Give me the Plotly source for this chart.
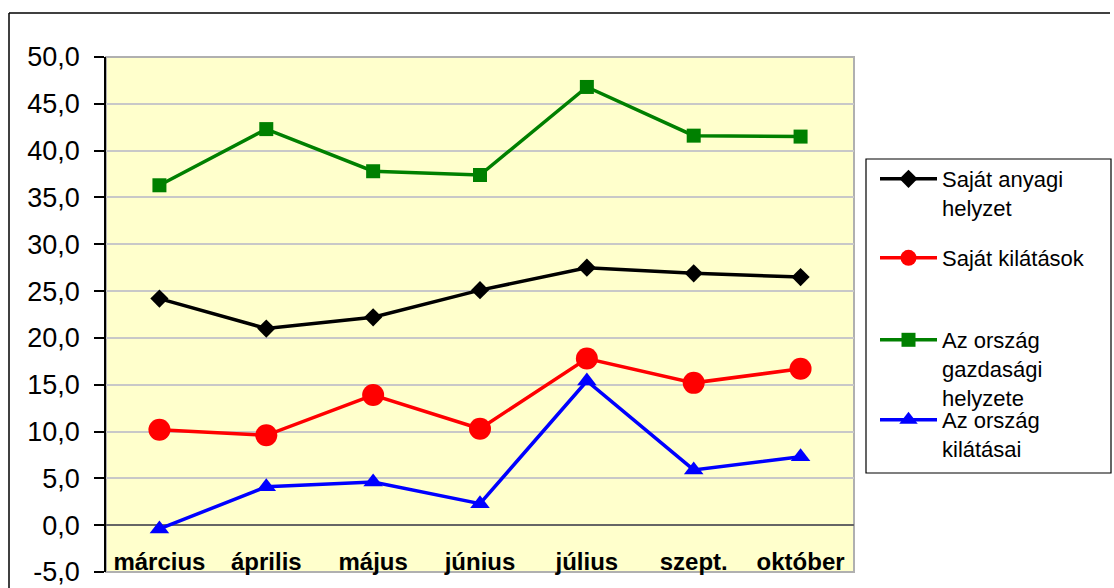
import plotly.graph_objects as go

months = ["március", "április", "május", "június", "július", "szept.", "október"]
sajat_anyagi = [24.2, 21.0, 22.2, 25.1, 27.5, 26.9, 26.5]
sajat_kilatasok = [10.2, 9.6, 13.9, 10.3, 17.8, 15.2, 16.7]
orszag_gazdasagi = [36.3, 42.3, 37.8, 37.4, 46.8, 41.6, 41.5]
orszag_kilatasai = [-0.4, 4.1, 4.6, 2.3, 15.4, 5.9, 7.3]

names = ["Saját anyagi<br>helyzet", "Saját kilátások", "Az ország<br>gazdasági<br>helyzete", "Az ország<br>kilátásai"]
colors = ["#000000", "#FF0000", "#008000", "#0000FF"]
symbols = ["diamond", "circle", "square", "triangle-up"]
msizes = [14, 22, 14, 17]
series = [sajat_anyagi, sajat_kilatasok, orszag_gazdasagi, orszag_kilatasai]
legend_ids = ["legend", "legend2", "legend3", "legend4"]

ytick_vals = [-5, 0, 5, 10, 15, 20, 25, 30, 35, 40, 45, 50]
ytick_text = [f"{v:.1f}".replace(".", ",") for v in ytick_vals]

FONT = "Liberation Sans, Arial, sans-serif"
W, H = 1114, 588
L, R, T, B = 106, 854, 57, 572


def px(x):
    return (x - L) / (R - L)


def py(y):
    return (B - y) / (B - T)


fig = go.Figure()
for vals, name, c, s, ms, lg in zip(series, names, colors, symbols, msizes, legend_ids):
    fig.add_trace(go.Scatter(
        x=months, y=vals, name=name, mode="lines+markers",
        line=dict(color=c, width=3.5),
        marker=dict(symbol=s, size=ms, color=c, line=dict(width=0)),
        legend=lg,
    ))

leg_tops = [158, 237, 319, 399]
common_leg = dict(
    x=px(875), xanchor="left", yanchor="top",
    bgcolor="rgba(0,0,0,0)", borderwidth=0, valign="top",
    font=dict(family=FONT, size=22, color="#000000"),
    itemwidth=57, tracegroupgap=0,
)

layout_legends = {}
for lg, top in zip(legend_ids, leg_tops):
    d = dict(common_leg)
    d["y"] = py(top)
    layout_legends[lg] = d

fig.update_layout(
    width=W, height=H,
    margin=dict(l=L, r=W - R, t=T, b=H - B, autoexpand=False),
    paper_bgcolor="#FFFFFF",
    plot_bgcolor="#FFFFCC",
    font=dict(family=FONT, color="#000000"),
    showlegend=True,
    **layout_legends,
    xaxis=dict(
        type="category", range=[-0.5, 6.5], automargin=False,
        anchor="free", position=py(545),
        showgrid=False, zeroline=False, showline=False,
        ticks="", ticklabelstandoff=0,
        tickfont=dict(family=FONT, size=24, color="#000000", weight="bold"),
    ),
    xaxis2=dict(
        overlaying="x", anchor="free", position=5 / 55, side="bottom",
        range=[-0.5, 6.5], showgrid=False, zeroline=False, showline=False,
        automargin=False,
        tickmode="array", tickvals=[i - 0.5 for i in range(len(months) + 1)],
        ticks="outside", ticklen=8, tickcolor="#606060", tickwidth=1.5,
        showticklabels=False,
    ),
    yaxis=dict(
        range=[-5, 50], tickmode="array", tickvals=ytick_vals, ticktext=ytick_text,
        automargin=False,
        showgrid=True, gridcolor="#C8C8C8", gridwidth=1.5,
        zeroline=True, zerolinecolor="#666666", zerolinewidth=2,
        showline=True, linecolor="#000000", linewidth=1.5,
        ticks="outside", ticklen=10, tickcolor="#000000", tickwidth=1.5,
        ticklabelstandoff=9,
        tickfont=dict(family=FONT, size=27, color="#000000"),
    ),
    shapes=[
        # plot area border (gray)
        dict(type="rect", xref="paper", yref="paper", x0=0, x1=1, y0=0, y1=1,
             line=dict(color="#B0B0B0", width=2), layer="below"),
        # legend box
        dict(type="rect", xref="paper", yref="paper",
             x0=px(866), x1=px(1111), y0=py(473), y1=py(159),
             line=dict(color="#000000", width=1.2)),
        # outer chart border (top and left)
        dict(type="line", xref="paper", yref="paper",
             x0=px(9), x1=px(1110), y0=py(13), y1=py(13),
             line=dict(color="#000000", width=1.5)),
        dict(type="line", xref="paper", yref="paper",
             x0=px(9), x1=px(9), y0=py(13), y1=py(600),
             line=dict(color="#000000", width=1.5)),
    ],
)

fig.write_html("out.html", config={"displayModeBar": False},
               post_script="document.body.style.margin='0px';")
